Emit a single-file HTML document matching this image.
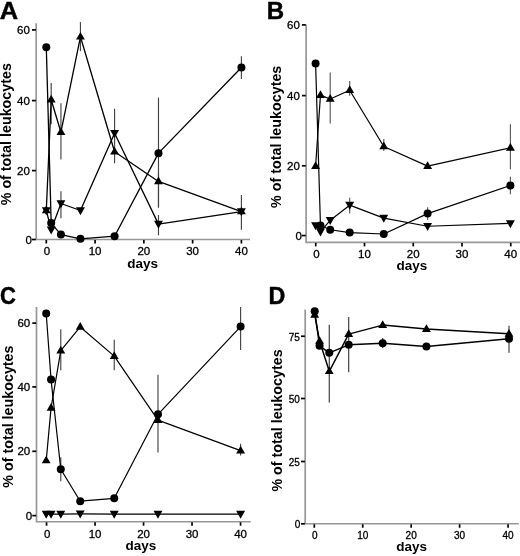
<!DOCTYPE html>
<html><head><meta charset="utf-8"><style>
html,body{margin:0;padding:0;background:#fff;}
svg{display:block;font-family:"Liberation Sans", sans-serif;filter:grayscale(1);}
</style></head><body>
<svg width="520" height="556" viewBox="0 0 520 556" font-family='"Liberation Sans", sans-serif'>
<rect width="520" height="556" fill="#fff"/>
<path d="M36.2 23.3V239.5H250" fill="none" stroke="#979797" stroke-width="1.7"/>
<line x1="32.00" y1="239.50" x2="35.90" y2="239.50" stroke="#000" stroke-width="1.7"/>
<text x="31.90" y="243.64" font-size="11.5" text-anchor="end" stroke="#000" stroke-width="0.3">0</text>
<line x1="32.00" y1="170.60" x2="35.90" y2="170.60" stroke="#000" stroke-width="1.7"/>
<text x="29.90" y="174.74" font-size="11.5" text-anchor="end" stroke="#000" stroke-width="0.3">20</text>
<line x1="32.00" y1="100.60" x2="35.90" y2="100.60" stroke="#000" stroke-width="1.7"/>
<text x="29.90" y="104.74" font-size="11.5" text-anchor="end" stroke="#000" stroke-width="0.3">40</text>
<line x1="32.00" y1="29.90" x2="35.90" y2="29.90" stroke="#000" stroke-width="1.7"/>
<text x="29.90" y="34.04" font-size="11.5" text-anchor="end" stroke="#000" stroke-width="0.3">60</text>
<line x1="46.30" y1="240.0" x2="46.30" y2="243.5" stroke="#000" stroke-width="1.7"/>
<text x="46.90" y="255.30" font-size="11.5" text-anchor="middle" stroke="#000" stroke-width="0.3">0</text>
<line x1="95.08" y1="240.0" x2="95.08" y2="243.5" stroke="#000" stroke-width="1.7"/>
<text x="95.08" y="255.30" font-size="11.5" text-anchor="middle" stroke="#000" stroke-width="0.3">10</text>
<line x1="143.85" y1="240.0" x2="143.85" y2="243.5" stroke="#000" stroke-width="1.7"/>
<text x="143.85" y="255.30" font-size="11.5" text-anchor="middle" stroke="#000" stroke-width="0.3">20</text>
<line x1="192.62" y1="240.0" x2="192.62" y2="243.5" stroke="#000" stroke-width="1.7"/>
<text x="192.62" y="255.30" font-size="11.5" text-anchor="middle" stroke="#000" stroke-width="0.3">30</text>
<line x1="241.40" y1="240.0" x2="241.40" y2="243.5" stroke="#000" stroke-width="1.7"/>
<text x="241.40" y="255.30" font-size="11.5" text-anchor="middle" stroke="#000" stroke-width="0.3">40</text>
<line x1="158.48" y1="97.60" x2="158.48" y2="207.70" stroke="#444" stroke-width="1.15"/>
<line x1="241.40" y1="56.36" x2="241.40" y2="79.08" stroke="#444" stroke-width="1.15"/>
<line x1="51.18" y1="82.92" x2="51.18" y2="124.16" stroke="#444" stroke-width="1.15"/>
<line x1="60.93" y1="103.19" x2="60.93" y2="159.46" stroke="#444" stroke-width="1.15"/>
<line x1="80.44" y1="22.11" x2="80.44" y2="51.12" stroke="#444" stroke-width="1.15"/>
<line x1="114.59" y1="145.13" x2="114.59" y2="163.31" stroke="#444" stroke-width="1.15"/>
<line x1="158.48" y1="173.09" x2="158.48" y2="207.35" stroke="#444" stroke-width="1.15"/>
<line x1="241.40" y1="195.11" x2="241.40" y2="229.71" stroke="#444" stroke-width="1.15"/>
<line x1="60.93" y1="191.27" x2="60.93" y2="218.18" stroke="#444" stroke-width="1.15"/>
<line x1="114.59" y1="108.79" x2="114.59" y2="145.13" stroke="#444" stroke-width="1.15"/>
<line x1="158.48" y1="215.03" x2="158.48" y2="235.31" stroke="#444" stroke-width="1.15"/>
<polyline points="46.30,47.28 51.18,223.07 60.93,234.61 80.44,238.80 114.59,236.18 158.48,153.17 241.40,67.55" fill="none" stroke="#000" stroke-width="1.3" stroke-linejoin="round"/>
<polyline points="46.30,210.49 51.18,99.70 60.93,132.20 80.44,36.79 114.59,151.78 158.48,181.48 241.40,211.54" fill="none" stroke="#000" stroke-width="1.3" stroke-linejoin="round"/>
<polyline points="46.30,210.49 51.18,229.71 60.93,203.50 80.44,210.49 114.59,133.25 158.48,224.12 241.40,211.54" fill="none" stroke="#000" stroke-width="1.3" stroke-linejoin="round"/>
<circle cx="46.30" cy="47.28" r="4.00"/>
<circle cx="51.18" cy="223.07" r="4.00"/>
<circle cx="60.93" cy="234.61" r="4.00"/>
<circle cx="80.44" cy="238.80" r="4.00"/>
<circle cx="114.59" cy="236.18" r="4.00"/>
<circle cx="158.48" cy="153.17" r="4.00"/>
<circle cx="241.40" cy="67.55" r="4.00"/>
<path d="M46.30 205.59L50.75 213.29L41.85 213.29Z"/>
<path d="M51.18 94.80L55.63 102.50L46.73 102.50Z"/>
<path d="M60.93 127.30L65.38 135.00L56.48 135.00Z"/>
<path d="M80.44 31.89L84.89 39.59L75.99 39.59Z"/>
<path d="M114.59 146.88L119.04 154.58L110.14 154.58Z"/>
<path d="M158.48 176.58L162.93 184.28L154.03 184.28Z"/>
<path d="M241.40 206.64L245.85 214.34L236.95 214.34Z"/>
<path d="M46.30 215.19L50.75 207.19L41.85 207.19Z"/>
<path d="M51.18 234.41L55.63 226.41L46.73 226.41Z"/>
<path d="M60.93 208.20L65.38 200.20L56.48 200.20Z"/>
<path d="M80.44 215.19L84.89 207.19L75.99 207.19Z"/>
<path d="M114.59 137.95L119.04 129.95L110.14 129.95Z"/>
<path d="M158.48 228.82L162.93 220.82L154.03 220.82Z"/>
<path d="M241.40 216.24L245.85 208.24L236.95 208.24Z"/>
<text transform="translate(-0.3,18.7) scale(1.06,1)" font-size="24" font-weight="bold" stroke="#000" stroke-width="0.45">A</text>
<text transform="translate(11.3,134.2) rotate(-90) scale(1.022,1)" x="0" y="0" font-size="14" font-weight="bold" text-anchor="middle">% of total leukocytes</text>
<text x="142.75" y="267.8" font-size="13.5" font-weight="bold" text-anchor="middle">days</text>
<path d="M306.1 24.6V242.4H520" fill="none" stroke="#979797" stroke-width="1.7"/>
<line x1="301.90" y1="235.55" x2="305.80" y2="235.55" stroke="#000" stroke-width="1.7"/>
<text x="301.80" y="239.69" font-size="11.5" text-anchor="end" stroke="#000" stroke-width="0.3">0</text>
<line x1="301.90" y1="165.80" x2="305.80" y2="165.80" stroke="#000" stroke-width="1.7"/>
<text x="299.80" y="169.94" font-size="11.5" text-anchor="end" stroke="#000" stroke-width="0.3">20</text>
<line x1="301.90" y1="95.60" x2="305.80" y2="95.60" stroke="#000" stroke-width="1.7"/>
<text x="299.80" y="99.74" font-size="11.5" text-anchor="end" stroke="#000" stroke-width="0.3">40</text>
<line x1="301.90" y1="24.90" x2="305.80" y2="24.90" stroke="#000" stroke-width="1.7"/>
<text x="299.80" y="29.04" font-size="11.5" text-anchor="end" stroke="#000" stroke-width="0.3">60</text>
<line x1="315.75" y1="242.9" x2="315.75" y2="246.4" stroke="#000" stroke-width="1.7"/>
<text x="316.35" y="257.70" font-size="11.5" text-anchor="middle" stroke="#000" stroke-width="0.3">0</text>
<line x1="364.50" y1="242.9" x2="364.50" y2="246.4" stroke="#000" stroke-width="1.7"/>
<text x="364.50" y="257.70" font-size="11.5" text-anchor="middle" stroke="#000" stroke-width="0.3">10</text>
<line x1="413.25" y1="242.9" x2="413.25" y2="246.4" stroke="#000" stroke-width="1.7"/>
<text x="413.25" y="257.70" font-size="11.5" text-anchor="middle" stroke="#000" stroke-width="0.3">20</text>
<line x1="462.00" y1="242.9" x2="462.00" y2="246.4" stroke="#000" stroke-width="1.7"/>
<text x="462.00" y="257.70" font-size="11.5" text-anchor="middle" stroke="#000" stroke-width="0.3">30</text>
<line x1="510.75" y1="242.9" x2="510.75" y2="246.4" stroke="#000" stroke-width="1.7"/>
<text x="510.75" y="257.70" font-size="11.5" text-anchor="middle" stroke="#000" stroke-width="0.3">40</text>
<line x1="427.61" y1="207.27" x2="427.61" y2="219.93" stroke="#5a5a5a" stroke-width="1.15"/>
<line x1="510.40" y1="176.68" x2="510.40" y2="194.26" stroke="#5a5a5a" stroke-width="1.15"/>
<line x1="330.21" y1="72.61" x2="330.21" y2="123.59" stroke="#5a5a5a" stroke-width="1.15"/>
<line x1="349.69" y1="81.05" x2="349.69" y2="95.81" stroke="#5a5a5a" stroke-width="1.15"/>
<line x1="383.78" y1="139.06" x2="383.78" y2="151.01" stroke="#5a5a5a" stroke-width="1.15"/>
<line x1="510.40" y1="124.29" x2="510.40" y2="169.30" stroke="#5a5a5a" stroke-width="1.15"/>
<line x1="349.69" y1="197.78" x2="349.69" y2="213.60" stroke="#5a5a5a" stroke-width="1.15"/>
<polyline points="315.60,63.47 320.47,225.55 330.21,229.77 349.69,232.59 383.78,233.99 427.61,213.60 510.40,185.47" fill="none" stroke="#000" stroke-width="1.2" stroke-linejoin="round"/>
<polyline points="315.60,166.13 320.47,95.11 330.21,98.98 349.69,90.19 383.78,146.44 427.61,166.13 510.40,147.85" fill="none" stroke="#000" stroke-width="1.2" stroke-linejoin="round"/>
<polyline points="315.60,225.55 320.47,231.71 330.21,220.28 349.69,205.16 383.78,218.17 427.61,226.26 510.40,223.44" fill="none" stroke="#000" stroke-width="1.2" stroke-linejoin="round"/>
<circle cx="315.60" cy="63.47" r="4.00"/>
<circle cx="320.47" cy="225.55" r="4.00"/>
<circle cx="330.21" cy="229.77" r="4.00"/>
<circle cx="349.69" cy="232.59" r="4.00"/>
<circle cx="383.78" cy="233.99" r="4.00"/>
<circle cx="427.61" cy="213.60" r="4.00"/>
<circle cx="510.40" cy="185.47" r="4.00"/>
<path d="M315.60 161.23L320.05 168.93L311.15 168.93Z"/>
<path d="M320.47 90.21L324.92 97.91L316.02 97.91Z"/>
<path d="M330.21 94.08L334.66 101.78L325.76 101.78Z"/>
<path d="M349.69 85.29L354.14 92.99L345.24 92.99Z"/>
<path d="M383.78 141.54L388.23 149.24L379.33 149.24Z"/>
<path d="M427.61 161.23L432.06 168.93L423.16 168.93Z"/>
<path d="M510.40 142.95L514.85 150.65L505.95 150.65Z"/>
<path d="M315.60 230.25L320.05 222.25L311.15 222.25Z"/>
<path d="M320.47 236.41L324.92 228.41L316.02 228.41Z"/>
<path d="M330.21 224.98L334.66 216.98L325.76 216.98Z"/>
<path d="M349.69 209.86L354.14 201.86L345.24 201.86Z"/>
<path d="M383.78 222.87L388.23 214.87L379.33 214.87Z"/>
<path d="M427.61 230.96L432.06 222.96L423.16 222.96Z"/>
<path d="M510.40 228.14L514.85 220.14L505.95 220.14Z"/>
<text transform="translate(266.8,18.9) scale(1.0,1)" font-size="24" font-weight="bold" stroke="#000" stroke-width="0.45">B</text>
<text transform="translate(281.3,136.8) rotate(-90) scale(1.022,1)" x="0" y="0" font-size="14" font-weight="bold" text-anchor="middle">% of total leukocytes</text>
<text x="411.85" y="269.5" font-size="13.5" font-weight="bold" text-anchor="middle">days</text>
<path d="M36.5 307.1V521.75H250.75" fill="none" stroke="#979797" stroke-width="1.7"/>
<line x1="32.30" y1="515.60" x2="36.20" y2="515.60" stroke="#000" stroke-width="1.7"/>
<text x="32.20" y="519.74" font-size="11.5" text-anchor="end" stroke="#000" stroke-width="0.3">0</text>
<line x1="32.30" y1="451.30" x2="36.20" y2="451.30" stroke="#000" stroke-width="1.7"/>
<text x="30.20" y="455.44" font-size="11.5" text-anchor="end" stroke="#000" stroke-width="0.3">20</text>
<line x1="32.30" y1="386.90" x2="36.20" y2="386.90" stroke="#000" stroke-width="1.7"/>
<text x="30.20" y="391.04" font-size="11.5" text-anchor="end" stroke="#000" stroke-width="0.3">40</text>
<line x1="32.30" y1="323.10" x2="36.20" y2="323.10" stroke="#000" stroke-width="1.7"/>
<text x="30.20" y="327.24" font-size="11.5" text-anchor="end" stroke="#000" stroke-width="0.3">60</text>
<line x1="46.55" y1="522.25" x2="46.55" y2="525.75" stroke="#000" stroke-width="1.7"/>
<text x="47.15" y="537.50" font-size="11.5" text-anchor="middle" stroke="#000" stroke-width="0.3">0</text>
<line x1="95.05" y1="522.25" x2="95.05" y2="525.75" stroke="#000" stroke-width="1.7"/>
<text x="95.05" y="537.50" font-size="11.5" text-anchor="middle" stroke="#000" stroke-width="0.3">10</text>
<line x1="143.55" y1="522.25" x2="143.55" y2="525.75" stroke="#000" stroke-width="1.7"/>
<text x="143.55" y="537.50" font-size="11.5" text-anchor="middle" stroke="#000" stroke-width="0.3">20</text>
<line x1="192.05" y1="522.25" x2="192.05" y2="525.75" stroke="#000" stroke-width="1.7"/>
<text x="192.05" y="537.50" font-size="11.5" text-anchor="middle" stroke="#000" stroke-width="0.3">30</text>
<line x1="240.55" y1="522.25" x2="240.55" y2="525.75" stroke="#000" stroke-width="1.7"/>
<text x="240.55" y="537.50" font-size="11.5" text-anchor="middle" stroke="#000" stroke-width="0.3">40</text>
<line x1="60.78" y1="457.35" x2="60.78" y2="481.13" stroke="#444" stroke-width="1.15"/>
<line x1="157.98" y1="374.79" x2="157.98" y2="452.53" stroke="#444" stroke-width="1.15"/>
<line x1="240.60" y1="307.01" x2="240.60" y2="350.06" stroke="#444" stroke-width="1.15"/>
<line x1="60.78" y1="329.18" x2="60.78" y2="370.29" stroke="#444" stroke-width="1.15"/>
<line x1="114.24" y1="339.78" x2="114.24" y2="370.29" stroke="#444" stroke-width="1.15"/>
<line x1="240.60" y1="443.86" x2="240.60" y2="455.43" stroke="#444" stroke-width="1.15"/>
<polyline points="46.20,313.43 51.06,379.61 60.78,469.24 80.22,501.20 114.24,498.31 157.98,414.31 240.60,326.61" fill="none" stroke="#000" stroke-width="1.2" stroke-linejoin="round"/>
<polyline points="46.20,460.57 51.06,407.88 60.78,350.70 80.22,326.93 114.24,356.16 157.98,420.09 240.60,450.61" fill="none" stroke="#000" stroke-width="1.2" stroke-linejoin="round"/>
<polyline points="46.20,514.05 51.06,514.05 60.78,514.05 80.22,513.89 114.24,514.05 157.98,514.05 240.60,514.05" fill="none" stroke="#000" stroke-width="1.2" stroke-linejoin="round"/>
<circle cx="46.20" cy="313.43" r="4.00"/>
<circle cx="51.06" cy="379.61" r="4.00"/>
<circle cx="60.78" cy="469.24" r="4.00"/>
<circle cx="80.22" cy="501.20" r="4.00"/>
<circle cx="114.24" cy="498.31" r="4.00"/>
<circle cx="157.98" cy="414.31" r="4.00"/>
<circle cx="240.60" cy="326.61" r="4.00"/>
<path d="M46.20 455.67L50.65 463.37L41.75 463.37Z"/>
<path d="M51.06 402.98L55.51 410.68L46.61 410.68Z"/>
<path d="M60.78 345.80L65.23 353.50L56.33 353.50Z"/>
<path d="M80.22 322.03L84.67 329.73L75.77 329.73Z"/>
<path d="M114.24 351.26L118.69 358.96L109.79 358.96Z"/>
<path d="M157.98 415.19L162.43 422.89L153.53 422.89Z"/>
<path d="M240.60 445.71L245.05 453.41L236.15 453.41Z"/>
<path d="M46.20 518.75L50.65 510.75L41.75 510.75Z"/>
<path d="M51.06 518.75L55.51 510.75L46.61 510.75Z"/>
<path d="M60.78 518.75L65.23 510.75L56.33 510.75Z"/>
<path d="M80.22 518.59L84.67 510.59L75.77 510.59Z"/>
<path d="M114.24 518.75L118.69 510.75L109.79 510.75Z"/>
<path d="M157.98 518.75L162.43 510.75L153.53 510.75Z"/>
<path d="M240.60 518.75L245.05 510.75L236.15 510.75Z"/>
<text transform="translate(0.0,303.9) scale(0.92,1)" font-size="24" font-weight="bold" stroke="#000" stroke-width="0.45">C</text>
<text transform="translate(12.6,416.6) rotate(-90) scale(1.022,1)" x="0" y="0" font-size="14" font-weight="bold" text-anchor="middle">% of total leukocytes</text>
<text x="140.8" y="550.2" font-size="13.5" font-weight="bold" text-anchor="middle">days</text>
<path d="M305.2 309.6V523.75H518.75" fill="none" stroke="#979797" stroke-width="1.7"/>
<line x1="301.00" y1="523.80" x2="304.90" y2="523.80" stroke="#000" stroke-width="1.7"/>
<text x="300.20" y="528.30" font-size="10" text-anchor="end" stroke="#000" stroke-width="0.3">0</text>
<line x1="301.00" y1="461.50" x2="304.90" y2="461.50" stroke="#000" stroke-width="1.7"/>
<text x="299.80" y="466.00" font-size="10" text-anchor="end" stroke="#000" stroke-width="0.3">25</text>
<line x1="301.00" y1="398.50" x2="304.90" y2="398.50" stroke="#000" stroke-width="1.7"/>
<text x="299.80" y="403.00" font-size="10" text-anchor="end" stroke="#000" stroke-width="0.3">50</text>
<line x1="301.00" y1="336.25" x2="304.90" y2="336.25" stroke="#000" stroke-width="1.7"/>
<text x="299.80" y="340.75" font-size="10" text-anchor="end" stroke="#000" stroke-width="0.3">75</text>
<line x1="314.30" y1="524.25" x2="314.30" y2="527.75" stroke="#000" stroke-width="1.7"/>
<text x="314.90" y="538.50" font-size="10" text-anchor="middle" stroke="#000" stroke-width="0.3">0</text>
<line x1="362.74" y1="524.25" x2="362.74" y2="527.75" stroke="#000" stroke-width="1.7"/>
<text x="362.74" y="538.50" font-size="10" text-anchor="middle" stroke="#000" stroke-width="0.3">10</text>
<line x1="411.18" y1="524.25" x2="411.18" y2="527.75" stroke="#000" stroke-width="1.7"/>
<text x="411.18" y="538.50" font-size="10" text-anchor="middle" stroke="#000" stroke-width="0.3">20</text>
<line x1="459.62" y1="524.25" x2="459.62" y2="527.75" stroke="#000" stroke-width="1.7"/>
<text x="459.62" y="538.50" font-size="10" text-anchor="middle" stroke="#000" stroke-width="0.3">30</text>
<line x1="508.06" y1="524.25" x2="508.06" y2="527.75" stroke="#000" stroke-width="1.7"/>
<text x="508.06" y="538.50" font-size="10" text-anchor="middle" stroke="#000" stroke-width="0.3">40</text>
<line x1="348.70" y1="317.08" x2="348.70" y2="372.31" stroke="#3a3a3a" stroke-width="1.15"/>
<line x1="382.70" y1="338.07" x2="382.70" y2="348.07" stroke="#3a3a3a" stroke-width="1.15"/>
<line x1="509.00" y1="325.83" x2="509.00" y2="352.82" stroke="#3a3a3a" stroke-width="1.15"/>
<line x1="329.27" y1="324.83" x2="329.27" y2="402.55" stroke="#3a3a3a" stroke-width="1.15"/>
<polyline points="314.70,311.21 319.56,345.82 329.27,352.82 348.70,344.82 382.70,343.32 426.42,346.57 509.00,338.82" fill="none" stroke="#000" stroke-width="1.45" stroke-linejoin="round"/>
<polyline points="314.70,314.83 319.56,341.07 329.27,371.31 348.70,334.08 382.70,325.08 426.42,329.08 509.00,333.83" fill="none" stroke="#000" stroke-width="1.45" stroke-linejoin="round"/>
<circle cx="314.70" cy="311.21" r="4.00"/>
<circle cx="319.56" cy="345.82" r="4.00"/>
<circle cx="329.27" cy="352.82" r="4.00"/>
<circle cx="348.70" cy="344.82" r="4.00"/>
<circle cx="382.70" cy="343.32" r="4.00"/>
<circle cx="426.42" cy="346.57" r="4.00"/>
<circle cx="509.00" cy="338.82" r="4.00"/>
<path d="M314.70 309.93L319.15 317.63L310.25 317.63Z"/>
<path d="M319.56 336.17L324.01 343.87L315.11 343.87Z"/>
<path d="M329.27 366.41L333.72 374.11L324.82 374.11Z"/>
<path d="M348.70 329.18L353.15 336.88L344.25 336.88Z"/>
<path d="M382.70 320.18L387.15 327.88L378.25 327.88Z"/>
<path d="M426.42 324.18L430.87 331.88L421.97 331.88Z"/>
<path d="M509.00 328.93L513.45 336.63L504.55 336.63Z"/>
<text transform="translate(268.6,303.6) scale(0.97,1)" font-size="24" font-weight="bold" stroke="#000" stroke-width="0.45">D</text>
<text transform="translate(282.0,420.5) rotate(-90) scale(1.022,1)" x="0" y="0" font-size="14" font-weight="bold" text-anchor="middle">% of total leukocytes</text>
<text x="411.6" y="551.4" font-size="13.5" font-weight="bold" text-anchor="middle">days</text>
</svg>
</body></html>
